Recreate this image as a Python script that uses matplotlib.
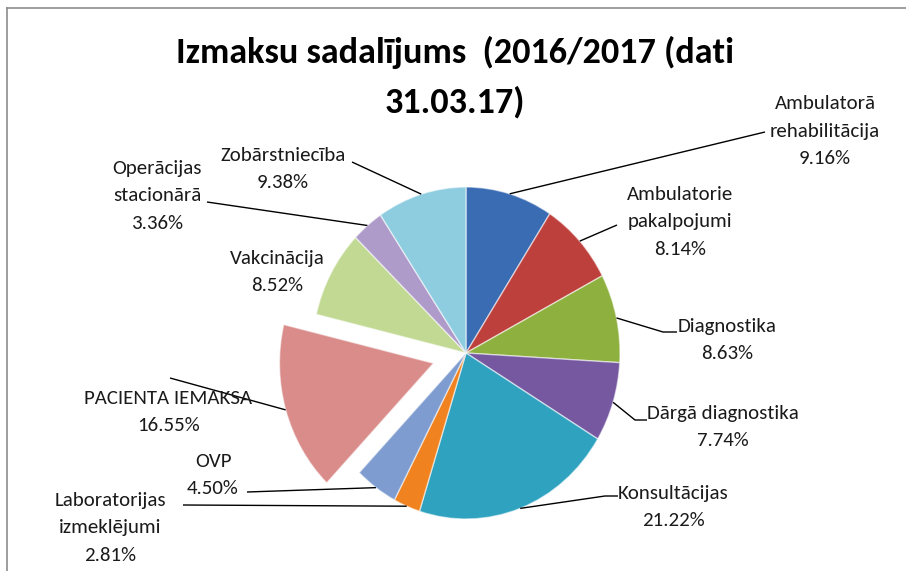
import matplotlib
matplotlib.use("Agg")
import matplotlib.pyplot as plt
import numpy as np

categories = ["Ambulatorā\nrehabilitācija", "Ambulatorie\npakalpojumi", "Diagnostika",
              "Dārgā diagnostika", "Konsultācijas", "Laboratorijas\nizmeklējumi", "OVP",
              "PACIENTA IEMAKSA", "Vakcinācija", "Operācijas\nstacionārā", "Zobārstniecība"]
values = [9.16, 8.14, 8.63, 7.74, 21.22, 2.81, 4.50, 16.55, 8.52, 3.36, 9.38]
pct_labels = ["9.16%", "8.14%", "8.63%", "7.74%", "21.22%", "2.81%", "4.50%",
              "16.55%", "8.52%", "3.36%", "9.38%"]
colors = ["#3A6CB4", "#BE403D", "#8DB03E", "#7558A0", "#2FA2C0", "#F0831F",
          "#7E9CD0", "#D98C8A", "#C1D993", "#AE9BCA", "#8ECDE0"]
explode = [0, 0, 0, 0, 0, 0, 0, 0.22, 0, 0, 0]

title = "Izmaksu sadalījums  (2016/2017 (dati\n31.03.17)"

W, H = 906, 571
fig = plt.figure(figsize=(W / 100, H / 100), dpi=100)
fig.patch.set_facecolor("white")
ax = fig.add_axes([0, 0, 1, 1])

cx, cy, rx, ry = 466, 353, 154, 166
wedges, _ = ax.pie(values, colors=colors, startangle=90, counterclock=False,
                   explode=explode, radius=1.0,
                   wedgeprops=dict(edgecolor=(1, 1, 1, 0.55), linewidth=1.0))
ax.set_aspect("auto")
ax.set_xlim(-cx / rx, (W - cx) / rx)
ax.set_ylim(-(H - cy) / ry, cy / ry)
ax.axis("off")

FONT = ["Carlito", "Liberation Sans", "DejaVu Sans"]

fig.text(455 / W, 1 - 77 / H, title, ha="center", va="center", fontsize=26,
         fontweight="bold", family=FONT, color="black", linespacing=1.65)

# label layout: text centre (px), anchor (px), optional knee (px)
label_pos = [(825, 131), (680, 222), (727, 340), (723, 427), (673, 507),
             (110, 528), (213, 475), (168, 412), (277, 272), (157, 196), (283, 169)]
anchors = [(765, 132), (617, 225), (677, 332), (647, 420), (618, 496),
           (183, 505), (247, 492), (170, 378), None, (207, 202), (352, 162)]
knees = [None, None, (663, 332), (635, 420), (605, 496),
         None, None, None, None, None, None]

to_px = ax.transData
for i, w in enumerate(wedges):
    tx, ty = label_pos[i]
    fig.text(tx / W, 1 - ty / H, categories[i] + "\n" + pct_labels[i],
             ha="center", va="center", fontsize=15, family=FONT,
             color="#1a1a1a", linespacing=1.72)
    if anchors[i] is None:
        continue
    mid = np.deg2rad((w.theta1 + w.theta2) / 2)
    ex, ey = w.center[0] + w.r * np.cos(mid), w.center[1] + w.r * np.sin(mid)
    px, py = to_px.transform((ex, ey))
    pts = [anchors[i]]
    if knees[i] is not None:
        pts.append(knees[i])
    xs = [p[0] for p in pts] + [px]
    ys = [H - p[1] for p in pts] + [py]
    ax.plot(xs, ys, color="black", lw=1.0, transform=None, solid_capstyle="butt")

# chart frame
fig.add_artist(plt.Line2D([7 / W, 1], [1 - 8 / H, 1 - 8 / H], color="#8c8c8c", lw=1.2,
                          transform=fig.transFigure))
fig.add_artist(plt.Line2D([7 / W, 7 / W], [0, 1 - 8 / H], color="#8c8c8c", lw=1.2,
                          transform=fig.transFigure))

fig.savefig("out.png", dpi=100, facecolor="white")
